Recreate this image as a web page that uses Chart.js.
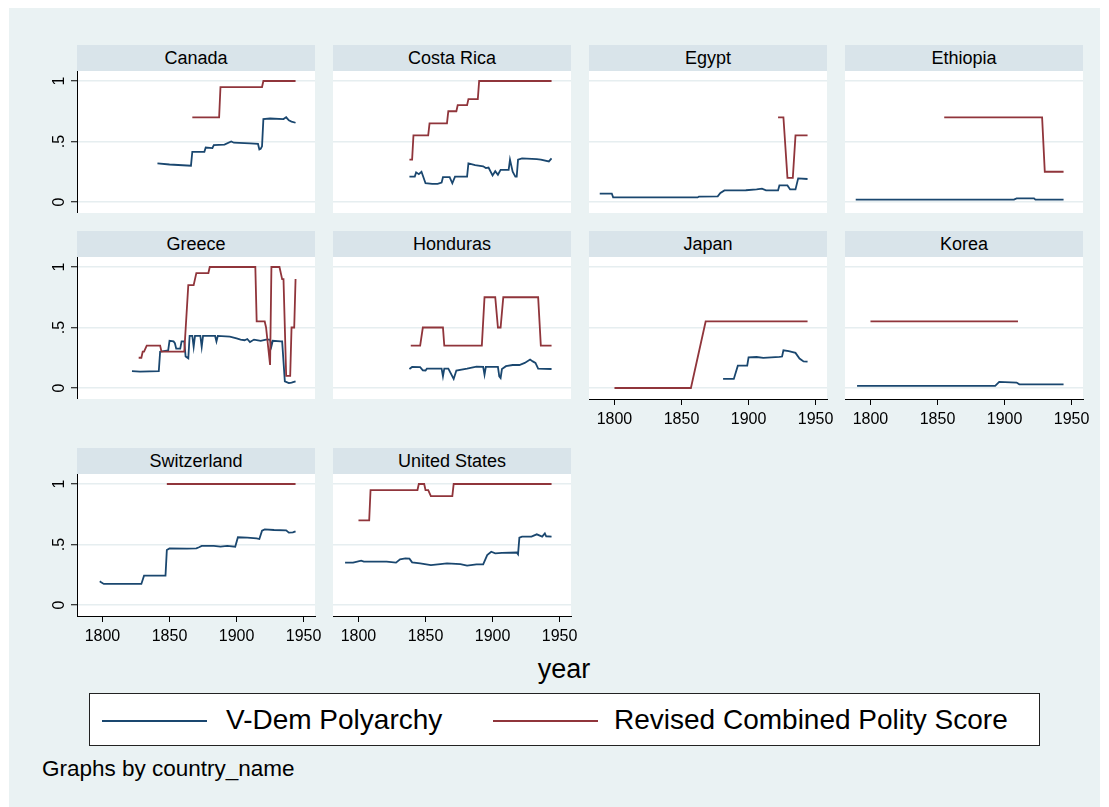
<!DOCTYPE html>
<html>
<head>
<meta charset="utf-8">
<script src="https://cdn.jsdelivr.net/npm/chart.js@4.4.1/dist/chart.umd.min.js"></script>
<style>
    body {
        margin: 0;
        width: 1109px;
        height: 807px;
        position: relative;
        overflow: hidden;
        background: #ffffff;
        font-family: "Liberation Sans", Arial, sans-serif;
        color: #000;
    }
    #bg {
        position: absolute;
        left: 9px;
        top: 8px;
        width: 1091px;
        height: 799px;
        background: #eaf2f3;
    }
    .strip {
        position: absolute;
        height: 26px;
        line-height: 27px;
        background: #d9e4ea;
        font-size: 18px;
        text-align: center;
    }
    canvas { position: absolute; }
    #xtitle {
        position: absolute;
        left: 464px;
        width: 200px;
        top: 654px;
        text-align: center;
        font-size: 27px;
    }
    #legend {
        position: absolute;
        left: 89px;
        top: 693px;
        width: 949px;
        height: 51px;
        border: 1.5px solid #222;
        background: #ffffff;
    }
    .key {
        position: absolute;
        top: 26px;
        height: 2px;
    }
    .keytext {
        position: absolute;
        top: 10px;
        font-size: 28px;
        line-height: 32px;
        white-space: nowrap;
    }
    #note {
        position: absolute;
        left: 42px;
        top: 756px;
        font-size: 22.5px;
        line-height: 26px;
    }
</style>
</head>
<body>
<div id="bg"></div>
<div id="xtitle">year</div>
<div id="legend">
    <div class="key" style="left:12px;width:105px;background:#1a476f"></div>
    <div class="keytext" style="left:136px">V-Dem Polyarchy</div>
    <div class="key" style="left:403px;width:105px;background:#90353b"></div>
    <div class="keytext" style="left:524px">Revised Combined Polity Score</div>
</div>
<div id="note">Graphs by country_name</div>

<script>
// values: [year, value]
const canadaVdem = [[1841,.32],[1850,.31],[1866,.30],[1867,.415],[1876,.415],[1877,.45],[1882,.445],[1883,.47],[1891,.475],[1896,.50],[1898,.49],[1910,.485],[1916,.48],[1917,.435],[1918,.44],[1919,.46],[1920,.685],[1925,.69],[1935,.685],[1937,.70],[1939,.675],[1941,.665],[1944,.655]];
const canadaPolity = [[1867,.7],[1887,.7],[1888,.95],[1919,.95],[1920,1],[1944,1]];

const costaRicaVdem = [[1838,.21],[1842,.21],[1843,.245],[1845,.23],[1847,.25],[1850,.155],[1855,.15],[1859,.15],[1862,.16],[1863,.205],[1868,.205],[1870,.155],[1872,.21],[1881,.21],[1882,.32],[1887,.305],[1893,.295],[1895,.28],[1897,.285],[1900,.22],[1902,.255],[1904,.225],[1906,.265],[1912,.265],[1913,.35],[1915,.25],[1917,.21],[1918,.21],[1919,.35],[1922,.36],[1933,.355],[1936,.35],[1942,.335],[1944,.36]];
const costaRicaPolity = [[1838,.35],[1840,.35],[1841,.55],[1852,.55],[1853,.65],[1866,.65],[1867,.75],[1873,.75],[1874,.80],[1881,.80],[1882,.85],[1889,.85],[1890,1],[1944,1]];

const egyptVdem = [[1789,.07],[1798,.07],[1799,.038],[1862,.038],[1863,.045],[1877,.047],[1879,.074],[1882,.096],[1898,.097],[1906,.104],[1910,.11],[1913,.096],[1922,.096],[1923,.137],[1929,.137],[1931,.104],[1935,.104],[1937,.195],[1944,.19]];
const egyptPolity = [[1922,.7],[1926,.7],[1929,.2],[1933,.2],[1935,.55],[1944,.55]];

const ethiopiaVdem = [[1789,.02],[1907,.02],[1909,.03],[1922,.03],[1923,.02],[1944,.02]];
const ethiopiaPolity = [[1855,.7],[1928,.7],[1930,.25],[1944,.25]];

const greeceVdem = [[1822,.14],[1828,.135],[1842,.14],[1843,.30],[1849,.31],[1850,.39],[1853,.385],[1854,.37],[1855,.325],[1858,.325],[1859,.386],[1861,.386],[1862,.26],[1864,.245],[1865,.43],[1867,.43],[1868,.34],[1869,.43],[1873,.43],[1874,.34],[1875,.43],[1884,.43],[1885,.385],[1886,.43],[1895,.425],[1900,.41],[1903,.40],[1906,.395],[1908,.405],[1910,.38],[1913,.40],[1918,.39],[1922,.40],[1925,.40],[1926,.345],[1927,.39],[1933,.385],[1934,.385],[1936,.055],[1939,.04],[1941,.045],[1944,.055]];
const greecePolity = [[1827,.25],[1829,.25],[1830,.30],[1831,.30],[1833,.35],[1843,.35],[1844,.30],[1861,.30],[1864,.85],[1868,.85],[1870,.95],[1879,.95],[1880,1],[1914,1],[1915,.55],[1921,.55],[1922,.5],[1925,.19],[1926,1],[1932,1],[1934,.9],[1935,.9],[1937,.1],[1940,.1],[1941,.5],[1943,.5],[1944,.9]];

const hondurasVdem = [[1838,.157],[1840,.174],[1846,.172],[1848,.146],[1850,.145],[1851,.16],[1862,.16],[1863,.097],[1864,.16],[1867,.16],[1871,.075],[1873,.144],[1881,.16],[1888,.177],[1893,.175],[1894,.11],[1895,.175],[1904,.175],[1905,.097],[1906,.083],[1907,.157],[1910,.18],[1915,.19],[1920,.19],[1924,.207],[1928,.235],[1930,.22],[1932,.207],[1934,.16],[1944,.157]];
const hondurasPolity = [[1839,.35],[1846,.35],[1848,.5],[1863,.5],[1864,.35],[1892,.35],[1894,.75],[1902,.75],[1904,.5],[1906,.5],[1908,.75],[1934,.75],[1936,.35],[1944,.35]];

const japanVdem = [[1881,.075],[1889,.075],[1892,.185],[1899,.185],[1900,.254],[1906,.256],[1911,.249],[1923,.257],[1925,.26],[1926,.312],[1930,.304],[1935,.29],[1938,.243],[1941,.22],[1944,.218]];
const japanPolity = [[1800,0],[1857,0],[1868,.55],[1944,.55]];

const koreaVdem = [[1790,.017],[1893,.017],[1896,.05],[1909,.045],[1911,.03],[1944,.03]];
const koreaPolity = [[1800,.55],[1910,.55]];

const switzerlandVdem = [[1798,.196],[1799,.187],[1801,.174],[1829,.174],[1831,.242],[1847,.242],[1848,.455],[1850,.468],[1863,.466],[1870,.468],[1872,.477],[1874,.488],[1883,.488],[1888,.482],[1893,.488],[1899,.482],[1901,.56],[1908,.556],[1915,.55],[1917,.545],[1919,.614],[1921,.625],[1928,.62],[1937,.617],[1939,.598],[1942,.6],[1944,.609]];
const switzerlandPolity = [[1848,1],[1944,1]];

const usVdem = [[1790,.35],[1796,.35],[1802,.366],[1804,.358],[1811,.358],[1821,.358],[1828,.35],[1831,.377],[1835,.386],[1838,.383],[1840,.353],[1846,.344],[1854,.33],[1861,.338],[1866,.344],[1876,.338],[1881,.325],[1888,.336],[1893,.336],[1896,.413],[1899,.44],[1902,.427],[1907,.43],[1918,.434],[1919,.419],[1920,.556],[1922,.565],[1929,.565],[1933,.584],[1937,.565],[1939,.592],[1940,.568],[1944,.565]];
const usPolity = [[1800,.7],[1808,.7],[1809,.95],[1844,.95],[1845,1],[1849,1],[1850,.95],[1852,.95],[1854,.9],[1870,.9],[1871,1],[1944,1]];

const countries = ["Canada", "Costa Rica", "Egypt", "Ethiopia", "Greece", "Honduras", "Japan", "Korea", "Switzerland", "United States"];
const vdemSeries = [canadaVdem, costaRicaVdem, egyptVdem, ethiopiaVdem, greeceVdem, hondurasVdem, japanVdem, koreaVdem, switzerlandVdem, usVdem];
const politySeries = [canadaPolity, costaRicaPolity, egyptPolity, ethiopiaPolity, greecePolity, hondurasPolity, japanPolity, koreaPolity, switzerlandPolity, usPolity];
const withXAxis = ["Japan", "Korea", "Switzerland", "United States"];

const xTicks = [1800, 1850, 1900, 1950];
const yTicks = [0, 0.5, 1];
const yTickLabels = ["0", ".5", "1"];

// layout
const FONT = "'Liberation Sans', Arial, sans-serif";
const NAVY = "#1a476f";
const MAROON = "#90353b";
const X_MIN = 1781, X_MAX = 1958.5;
const Y_MIN = -11 / 121, Y_MAX = 1 + 10 / 121;
const PLOT_W = 238, PLOT_H = 142;
const rowYOne = [81, 267, 484];
const PAD_L = 45, PAD_R = 22;

const whiteArea = {
    id: "whiteArea",
    beforeDraw(chart) {
        const { ctx, chartArea: a } = chart;
        ctx.save();
        ctx.fillStyle = "#ffffff";
        ctx.fillRect(a.left, a.top, a.width, a.height);
        ctx.restore();
    }
};

function toPoints(series) {
    return series.map(([x, y]) => ({ x, y }));
}

function addPanel(index) {
    const col = index % 4;
    const row = Math.floor(index / 4);
    const name = countries[index];
    const showX = withXAxis.includes(name);
    const plotLeft = 77 + col * 256;
    const plotTop = rowYOne[row] - 10;

    const strip = document.createElement("div");
    strip.className = "strip";
    strip.style.left = plotLeft + "px";
    strip.style.top = (plotTop - 26) + "px";
    strip.style.width = PLOT_W + "px";
    strip.textContent = name;
    document.body.appendChild(strip);

    const canvas = document.createElement("canvas");
    canvas.width = PAD_L + PLOT_W + PAD_R;
    canvas.height = PLOT_H + (showX ? 40 : 0);
    canvas.style.left = (plotLeft - PAD_L) + "px";
    canvas.style.top = plotTop + "px";
    document.body.appendChild(canvas);

    new Chart(canvas, {
        type: "line",
        data: {
            datasets: [
                {
                    label: "V-Dem Polyarchy",
                    data: toPoints(vdemSeries[index]),
                    borderColor: NAVY,
                    borderWidth: 1.8,
                    pointRadius: 0,
                    tension: 0,
                    order: 2
                },
                {
                    label: "Revised Combined Polity Score",
                    data: toPoints(politySeries[index]),
                    borderColor: MAROON,
                    borderWidth: 1.8,
                    pointRadius: 0,
                    tension: 0,
                    order: 1
                }
            ]
        },
        options: {
            responsive: false,
            animation: false,
            events: [],
            layout: {
                padding: { left: col === 0 ? 0 : PAD_L, right: PAD_R, top: 0, bottom: 0 }
            },
            plugins: {
                legend: { display: false },
                tooltip: { enabled: false }
            },
            scales: {
                x: {
                    type: "linear",
                    min: X_MIN,
                    max: X_MAX,
                    display: showX,
                    afterBuildTicks: axis => { axis.ticks = xTicks.map(v => ({ value: v })); },
                    afterFit: axis => {
                        axis.height = showX ? 40 : 0;
                        axis.paddingLeft = 0;
                        axis.paddingRight = 0;
                    },
                    grid: { drawOnChartArea: false, tickLength: 6, tickColor: "#000", tickWidth: 1 },
                    border: { color: "#000", width: 1 },
                    ticks: {
                        color: "#000",
                        font: { size: 16, family: FONT },
                        padding: 5,
                        maxRotation: 0,
                        autoSkip: false,
                        callback: value => String(value)
                    }
                },
                y: {
                    min: Y_MIN,
                    max: Y_MAX,
                    afterBuildTicks: axis => { axis.ticks = yTicks.map(v => ({ value: v })); },
                    afterFit: axis => {
                        axis.width = col === 0 ? PAD_L : 0;
                        axis.paddingTop = 0;
                        axis.paddingBottom = 0;
                    },
                    grid: {
                        color: "#e6eef0",
                        lineWidth: 1.5,
                        drawTicks: col === 0,
                        tickLength: 6,
                        tickColor: "#000",
                        tickWidth: 1
                    },
                    border: { display: col === 0, color: "#000", width: 1 },
                    ticks: {
                        display: col === 0,
                        color: "#000",
                        font: { size: 16, family: FONT },
                        minRotation: 90,
                        maxRotation: 90,
                        crossAlign: "center",
                        padding: 5,
                        callback: value => yTickLabels[yTicks.indexOf(value)]
                    }
                }
            }
        },
        plugins: [whiteArea]
    });
}

countries.forEach((_, i) => addPanel(i));
</script>
</body>
</html>
